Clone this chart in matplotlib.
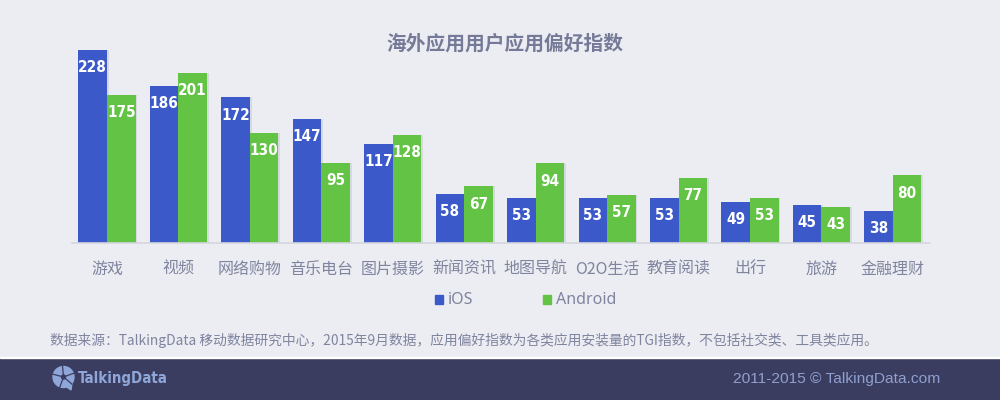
"""Chart renderer for the overseas app preference index."""

from __future__ import annotations

from dataclasses import dataclass

import matplotlib.pyplot as plt
import numpy as np
import pandas as pd
from matplotlib.axes import Axes
from matplotlib.figure import Figure
from matplotlib.patches import Circle, Polygon, Rectangle, Wedge

CJK_FONTS = ["Noto Sans CJK SC", "DejaVu Sans"]
NARROW_FONT = "DejaVu Sans"
IOS_COLOR = "#3b59c9"
ANDROID_COLOR = "#62c344"
BACKGROUND = "#ecedf2"
FOOTER = "#3a3d5f"
TEXT_COLOR = "#7f849f"

PREFERENCE = pd.DataFrame(
    {
        "category": [
            "游戏",
            "视频",
            "网络购物",
            "音乐电台",
            "图片摄影",
            "新闻资讯",
            "地图导航",
            "O2O生活",
            "教育阅读",
            "出行",
            "旅游",
            "金融理财",
        ],
        "ios": [228, 186, 172, 147, 117, 58, 53, 53, 53, 49, 45, 38],
        "android": [175, 201, 130, 95, 128, 67, 94, 57, 77, 53, 43, 80],
    }
)


@dataclass(frozen=True, slots=True)
class BarChartRenderer:
    """Render the paired iOS and Android bars."""

    width: float = 0.4

    def render(self, ax: Axes, frame: pd.DataFrame) -> None:
        """Draw bars, their soft shadows and value labels."""
        x_values = np.arange(len(frame))
        self._series(ax, x_values - self.width / 2, frame["ios"], IOS_COLOR, "iOS")
        self._series(ax, x_values + self.width / 2, frame["android"], ANDROID_COLOR, "Android")
        ax.set_xticks(x_values, frame["category"], family=CJK_FONTS, fontsize=11.5, color=TEXT_COLOR)
        ax.tick_params(axis="x", length=0, pad=13)
        ax.set_yticks([])
        ax.set_xlim(-0.49, 11.52)
        ax.set_ylim(0, 251.6)
        ax.patch.set_visible(False)
        for side in ("top", "left", "right"):
            ax.spines[side].set_visible(False)
        ax.spines["bottom"].set_color("#d5d6de")
        ax.spines["bottom"].set_linewidth(1.2)

    def _series(self, ax: Axes, x_values: np.ndarray, values: pd.Series, color: str, label: str) -> None:
        ax.bar(x_values + 0.025, values, self.width, color="#b9bbc6", alpha=0.4, zorder=1)
        ax.bar(x_values, values, self.width, color=color, label=label, zorder=2)
        for x, value in zip(x_values, values, strict=False):
            ax.text(
                x,
                value - 21,
                str(value),
                color="white",
                ha="center",
                va="center",
                family=NARROW_FONT,
                stretch="condensed",
                fontsize=11,
                fontweight="bold",
                zorder=3,
            )


@dataclass(frozen=True, slots=True)
class PageDecorator:
    """Render the title, legend, source note and footer band."""

    def render(self, fig: Figure) -> None:
        """Draw all page furniture in figure coordinates."""
        fig.text(
            0.505,
            0.889,
            "海外应用用户应用偏好指数",
            ha="center",
            va="center",
            family=CJK_FONTS,
            fontsize=14.2,
            fontweight="bold",
            color="#757a98",
        )
        fig.text(
            0.05,
            0.15,
            "数据来源：TalkingData 移动数据研究中心，2015年9月数据，应用偏好指数为各类应用安装量的TGI指数，不包括社交类、工具类应用。",
            ha="left",
            va="center",
            family=CJK_FONTS,
            fontsize=9.93,
            color=TEXT_COLOR,
        )
        self._legend(fig)
        self._footer(fig)

    def _legend(self, fig: Figure) -> None:
        for left, color, label in ((0.435, IOS_COLOR, "iOS"), (0.543, ANDROID_COLOR, "Android")):
            fig.add_artist(
                Rectangle((left, 0.241), 0.008, 0.0225, transform=fig.transFigure, color=color)
            )
            fig.text(
                left + 0.013,
                0.249,
                label,
                ha="left",
                va="center",
                family="Noto Sans",
                fontsize=11.5,
                color=TEXT_COLOR,
            )

    def _footer(self, fig: Figure) -> None:
        fig.add_artist(Rectangle((0, 0.105), 1, 0.003, transform=fig.transFigure, color="#ffffff"))
        logo_ax = fig.add_axes((0, 0, 1, 0.105), xlim=(0, 1000), ylim=(400, 358), facecolor=FOOTER)
        logo_ax.set_xticks([])
        logo_ax.set_yticks([])
        for spine in logo_ax.spines.values():
            spine.set_visible(False)
        self._logo(logo_ax)
        logo_ax.text(
            78,
            379,
            "TalkingData",
            ha="left",
            va="center",
            family=NARROW_FONT,
            stretch="condensed",
            fontsize=10.8,
            fontweight="bold",
            color="#8ea6d8",
        )
        logo_ax.text(
            940,
            379,
            "2011-2015 © TalkingData.com",
            ha="right",
            va="center",
            family="Liberation Sans",
            fontsize=11.15,
            color="#8f9fd0",
        )

    @staticmethod
    def _logo(ax: Axes) -> None:
        color = "#8ea6d8"
        ax.add_patch(Circle((63.5, 377), 10.5, color=color))
        ax.add_patch(Polygon([(64, 385), (72, 383), (71, 390)], color=color))
        for angle in (20, 95, 165, 250, 320):
            ax.plot(
                [63.5, 63.5 + 11 * np.cos(np.radians(angle))],
                [377, 377 - 11 * np.sin(np.radians(angle))],
                color=FOOTER,
                linewidth=0.9,
            )
        ax.add_patch(Wedge((63.5, 377), 2, 0, 360, color=FOOTER))


def main() -> None:
    """Render the complete chart and write it out."""
    fig = plt.figure(figsize=(10, 4), dpi=100, facecolor=BACKGROUND)
    ax = fig.add_axes((0.072, 0.3925, 0.858, 0.5325))
    BarChartRenderer().render(ax, PREFERENCE)
    PageDecorator().render(fig)
    fig.savefig("out.png", dpi=100, facecolor=BACKGROUND)


if __name__ == "__main__":
    main()
